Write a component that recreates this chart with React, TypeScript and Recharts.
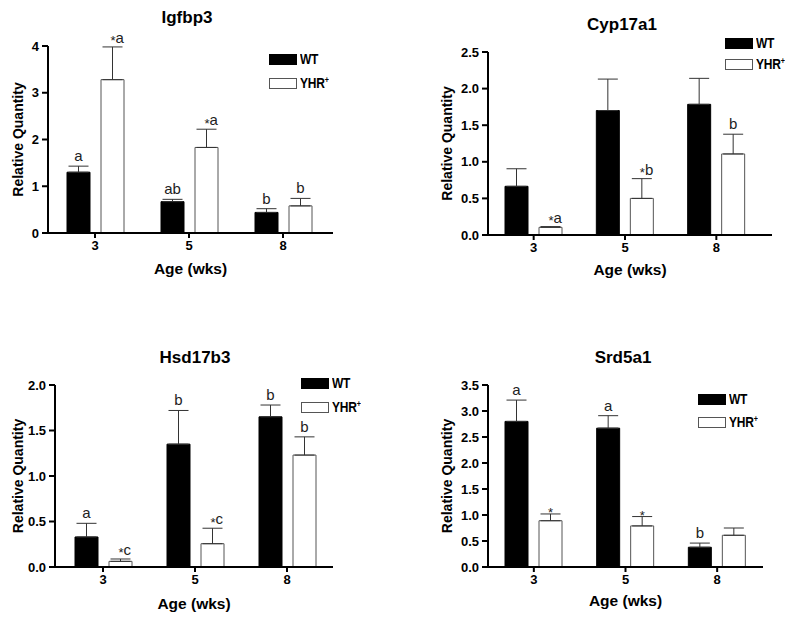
import React from 'react';
import { BarChart, Bar, XAxis, YAxis, ErrorBar, LabelList, Legend } from 'recharts';

const categories = ['3', '5', '8'];

const igfbp3WT = [1.3, 0.67, 0.44];
const igfbp3WTErr = [0.13, 0.05, 0.08];
const igfbp3YHR = [3.28, 1.83, 0.58];
const igfbp3YHRErr = [0.7, 0.39, 0.16];
const igfbp3WTLab = ['a', 'ab', 'b'];
const igfbp3YHRLab = ['*a', '*a', 'b'];
const igfbp3Ticks = [0, 1, 2, 3, 4];

const cypWT = [0.665, 1.7, 1.785];
const cypWTErr = [0.24, 0.43, 0.355];
const cypYHR = [0.105, 0.5, 1.107];
const cypYHRErr = [0.01, 0.27, 0.27];
const cypWTLab = ['', '', ''];
const cypYHRLab = ['*a', '*b', 'b'];
const cypTicks = [0, 0.5, 1, 1.5, 2, 2.5];

const hsdWT = [0.33, 1.35, 1.65];
const hsdWTErr = [0.15, 0.37, 0.13];
const hsdYHR = [0.062, 0.256, 1.23];
const hsdYHRErr = [0.026, 0.17, 0.2];
const hsdWTLab = ['a', 'b', 'b'];
const hsdYHRLab = ['*c', '*c', 'b'];
const hsdTicks = [0, 0.5, 1, 1.5, 2];

const srdWT = [2.8, 2.67, 0.38];
const srdWTErr = [0.41, 0.24, 0.08];
const srdYHR = [0.89, 0.79, 0.61];
const srdYHRErr = [0.13, 0.18, 0.14];
const srdWTLab = ['a', 'a', 'b'];
const srdYHRLab = ['*', '*', ''];
const srdTicks = [0, 0.5, 1, 1.5, 2, 2.5, 3, 3.5];

const seriesNames = ['WT', 'YHR'];

function buildRows(wt: number[], wtErr: number[], yhr: number[], yhrErr: number[], wtLab: string[], yhrLab: string[]) {
  return categories.map((age, i) => ({
    age,
    wt: wt[i],
    wtErr: [0, wtErr[i]],
    wtCap: wtErr[i],
    wtLab: wtLab[i],
    yhr: yhr[i],
    yhrErr: [0, yhrErr[i]],
    yhrCap: yhrErr[i],
    yhrLab: yhrLab[i],
  }));
}

const FONT = "'Liberation Sans', Arial, Helvetica, sans-serif";

const renderLab = (props: any) => {
  const { x, y, width, value } = props;
  if (!value) return null;
  const cx = Number(x) + Number(width) / 2;
  const top = Number(y);
  if (value === '*') {
    return (
      <text x={cx} y={top + 3} textAnchor="middle" fontSize={13} fontFamily={FONT} fill="#222">
        *
      </text>
    );
  }
  if (value.startsWith('*')) {
    return (
      <text x={cx - 2} y={top - 4} textAnchor="start" fontFamily={FONT} fill="#222">
        <tspan fontSize={13} dy={2.5}>*</tspan>
        <tspan fontSize={15} dy={-2.5}>{value.slice(1)}</tspan>
      </text>
    );
  }
  return (
    <text x={cx} y={top - 5} textAnchor="middle" fontSize={15} fontFamily={FONT} fill="#222">
      {value}
    </text>
  );
};

const LegendBox = ({ rowGap }: { rowGap: number }) => (
  <div style={{ fontFamily: FONT, fontWeight: 'bold', fontSize: 15, color: '#000', lineHeight: '12px' }}>
    {seriesNames.map((n, i) => (
      <div key={n} style={{ display: 'flex', alignItems: 'center', marginBottom: i === 0 ? rowGap : 0 }}>
        <div
          style={{
            width: i === 0 ? 28 : 26,
            height: i === 0 ? 11 : 9,
            background: i === 0 ? '#000' : '#fff',
            border: i === 0 ? 'none' : '1px solid #555',
            marginRight: 3,
          }}
        />
        <span style={{ display: 'inline-block', transform: 'scaleX(0.8)', transformOrigin: 'left center', letterSpacing: -0.3 }}>
          {i === 0 ? 'WT' : (
            <>
              YHR<sup style={{ fontSize: 9, verticalAlign: 'top', position: 'relative', top: -3 }}>+</sup>
            </>
          )}
        </span>
      </div>
    ))}
  </div>
);

type PanelProps = {
  title: string;
  rows: any[];
  ticks: number[];
  decimals: number;
  left: number;
  top: number;
  width: number;
  height: number;
  margin: { top: number; right: number; bottom: number; left: number };
  padL: number;
  padR: number;
  legendX: number;
  legendY: number;
  legendGap: number;
  titleX: number;
  titleY: number;
  yLabelX: number;
  xLabelY: number;
};

const Panel = (p: PanelProps) => {
  const plotLeft = p.margin.left + 40;
  const plotRight = p.width - p.margin.right;
  const plotTop = p.margin.top;
  const plotBottom = p.height - p.margin.bottom - 30;
  const cy = (plotTop + plotBottom) / 2;
  const cx = (plotLeft + plotRight) / 2;
  const axisStyle = { stroke: '#000', strokeWidth: 2 };
  const tickStyle = { fontFamily: FONT, fontWeight: 'bold', fontSize: 13, fill: '#000' } as any;
  return (
    <div style={{ position: 'absolute', left: p.left, top: p.top, width: p.width, height: p.height }}>
      <div
        style={{
          position: 'absolute',
          left: p.titleX - 100,
          top: p.titleY - 11,
          width: 200,
          textAlign: 'center',
          fontFamily: FONT,
          fontWeight: 'bold',
          fontSize: 17,
          lineHeight: '22px',
          color: '#000',
        }}
      >
        {p.title}
      </div>
      <BarChart width={p.width} height={p.height} data={p.rows} margin={p.margin} barSize={23} barGap={11}>
        <XAxis
          dataKey="age"
          height={30}
          padding={{ left: p.padL, right: p.padR }}
          axisLine={axisStyle}
          tickLine={axisStyle}
          tickSize={5}
          tickMargin={3}
          tick={tickStyle}
          label={{
            content: () => (
              <text x={cx} y={p.xLabelY} textAnchor="middle" dominantBaseline="central" fontFamily={FONT} fontWeight="bold" fontSize={15.5} fill="#000">
                Age (wks)
              </text>
            ),
          }}
        />
        <YAxis
          width={40}
          domain={[0, p.ticks[p.ticks.length - 1]]}
          ticks={p.ticks}
          interval={0}
          tickFormatter={(v: number) => v.toFixed(p.decimals)}
          axisLine={axisStyle}
          tickLine={axisStyle}
          tickSize={6}
          tickMargin={3}
          tick={tickStyle}
          label={{
            content: () => (
              <text
                x={p.yLabelX}
                y={cy}
                transform={`rotate(-90, ${p.yLabelX}, ${cy})`}
                textAnchor="middle"
                dominantBaseline="central"
                fontFamily={FONT}
                fontWeight="bold"
                fontSize={14}
                fill="#000"
              >
                Relative Quantity
              </text>
            ),
          }}
        />
        <Legend
          layout="horizontal"
          verticalAlign="middle"
          align="center"
          content={() => <LegendBox rowGap={p.legendGap} />}
          wrapperStyle={{ position: 'absolute', left: p.legendX, top: p.legendY, width: 'auto' }}
        />
        <Bar dataKey="wt" name="WT" stackId="w" fill="#000" stroke="#000" strokeWidth={1} isAnimationActive={false}>
          <ErrorBar dataKey="wtErr" width={10} strokeWidth={1} stroke="#333" direction="y" />
        </Bar>
        <Bar dataKey="wtCap" stackId="w" fill="transparent" stroke="none" legendType="none" isAnimationActive={false}>
          <LabelList dataKey="wtLab" content={renderLab} />
        </Bar>
        <Bar dataKey="yhr" name="YHR" stackId="y" fill="#fff" stroke="#555" strokeWidth={1} isAnimationActive={false}>
          <ErrorBar dataKey="yhrErr" width={10} strokeWidth={1} stroke="#333" direction="y" />
        </Bar>
        <Bar dataKey="yhrCap" stackId="y" fill="transparent" stroke="none" legendType="none" isAnimationActive={false}>
          <LabelList dataKey="yhrLab" content={renderLab} />
        </Bar>
      </BarChart>
    </div>
  );
}

export default function App() {
  return (
    <div style={{ position: 'absolute', left: 0, top: 0, width: 797, height: 619, background: '#fff', overflow: 'hidden' }}>
      <Panel
        title="Igfbp3"
        rows={buildRows(igfbp3WT, igfbp3WTErr, igfbp3YHR, igfbp3YHRErr, igfbp3WTLab, igfbp3YHRLab)}
        ticks={igfbp3Ticks}
        decimals={0}
        left={0}
        top={0}
        width={400}
        height={310}
        margin={{ top: 46, right: 67, bottom: 47, left: 8 }}
        padL={0}
        padR={3}
        legendX={269}
        legendY={53}
        legendGap={12}
        titleX={187}
        titleY={18}
        yLabelX={18}
        xLabelY={268}
      />
      <Panel
        title="Cyp17a1"
        rows={buildRows(cypWT, cypWTErr, cypYHR, cypYHRErr, cypWTLab, cypYHRLab)}
        ticks={cypTicks}
        decimals={1}
        left={400}
        top={0}
        width={397}
        height={310}
        margin={{ top: 52, right: 25, bottom: 45, left: 48 }}
        padL={0}
        padR={10}
        legendX={325}
        legendY={37}
        legendGap={9}
        titleX={222}
        titleY={25}
        yLabelX={47}
        xLabelY={269}
      />
      <Panel
        title="Hsd17b3"
        rows={buildRows(hsdWT, hsdWTErr, hsdYHR, hsdYHRErr, hsdWTLab, hsdYHRLab)}
        ticks={hsdTicks}
        decimals={1}
        left={0}
        top={310}
        width={400}
        height={309}
        margin={{ top: 75, right: 67, bottom: 22, left: 15 }}
        padL={2}
        padR={0}
        legendX={301}
        legendY={67}
        legendGap={12}
        titleX={195}
        titleY={48}
        yLabelX={18}
        xLabelY={293}
      />
      <Panel
        title="Srd5a1"
        rows={buildRows(srdWT, srdWTErr, srdYHR, srdYHRErr, srdWTLab, srdYHRLab)}
        ticks={srdTicks}
        decimals={1}
        left={400}
        top={310}
        width={397}
        height={309}
        margin={{ top: 75, right: 34, bottom: 22, left: 48 }}
        padL={0}
        padR={0}
        legendX={298}
        legendY={83}
        legendGap={11}
        titleX={223}
        titleY={48}
        yLabelX={47}
        xLabelY={290}
      />
    </div>
  );
}
